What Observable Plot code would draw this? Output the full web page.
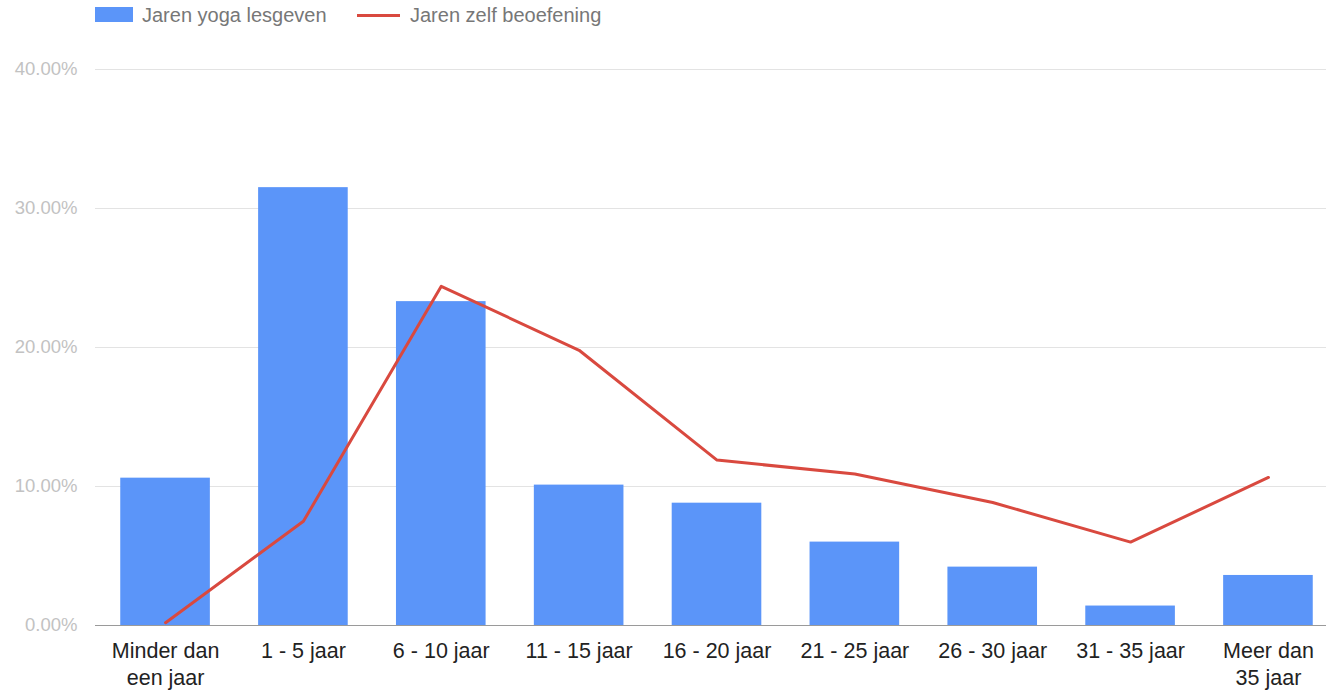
<!DOCTYPE html>
<html>
<head>
<meta charset="utf-8">
<script src="https://cdn.jsdelivr.net/npm/d3@7"></script>
<script src="https://cdn.jsdelivr.net/npm/@observablehq/plot@0.6"></script>
<style>
  html, body { margin: 0; padding: 0; background: #fff; overflow: hidden; }
  body { font-family: "Liberation Sans", Arial, sans-serif; width: 1326px; }
  #legend { position: relative; height: 30px; font-size: 20px; color: #777; }
  #legend .sw { position: absolute; }
  #legend .lbl { position: absolute; top: 0; line-height: 30px; white-space: nowrap; }
</style>
</head>
<body>
<div id="legend">
  <div class="sw" style="left:95px;top:7px;width:38px;height:15px;background:#5B95F9"></div>
  <div class="lbl" style="left:142px">Jaren yoga lesgeven</div>
  <div class="sw" style="left:357px;top:14px;width:43px;height:3px;background:#D9493F"></div>
  <div class="lbl" style="left:410px">Jaren zelf beoefening</div>
</div>
<div id="chart"></div>
<script>
const categories = ["Minder dan\neen jaar", "1 - 5 jaar", "6 - 10 jaar", "11 - 15 jaar", "16 - 20 jaar", "21 - 25 jaar", "26 - 30 jaar", "31 - 35 jaar", "Meer dan\n35 jaar"];
const lesgeven = [10.6, 31.5, 23.3, 10.1, 8.8, 6.0, 4.2, 1.4, 3.6];
const beoefening = [0.2, 7.5, 24.4, 19.8, 11.9, 10.9, 8.85, 6.0, 10.65];
const yTicks = [0, 10, 20, 30, 40];

const data = categories.map((c, i) => ({cat: c, les: lesgeven[i], beo: beoefening[i]}));

const chart = Plot.plot({
  width: 1326,
  height: 661,
  marginLeft: 95,
  marginRight: 0,
  marginTop: 39,
  marginBottom: 66,
  style: {fontFamily: "'Liberation Sans', Arial, sans-serif", background: "#fff", overflow: "visible"},
  x: {type: "band", domain: categories, range: [72, 1361], padding: 0.35, round: false, label: null},
  y: {domain: [0, 40], ticks: yTicks, label: null},
  marks: [
    Plot.ruleY(yTicks.filter(d => d > 0), {stroke: "#e3e3e3", strokeWidth: 1}),
    Plot.axisY({ticks: yTicks, tickSize: 0, tickPadding: 18, tickFormat: d => d.toFixed(2) + "%", fontSize: 18.5, color: "#c2c2c2", label: null}),
    Plot.barY(data, {x: "cat", y: "les", fill: "#5B95F9"}),
    Plot.ruleY([0], {stroke: "#9a9a9a", strokeWidth: 1}),
    Plot.line(data, {x: "cat", y: "beo", stroke: "#D9493F", strokeWidth: 3}),
    Plot.axisX({tickSize: 0, tickPadding: 14, fontSize: 21.5, color: "#222", lineHeight: 1.24, label: null})
  ]
});
document.getElementById("chart").appendChild(chart);
</script>
</body>
</html>
